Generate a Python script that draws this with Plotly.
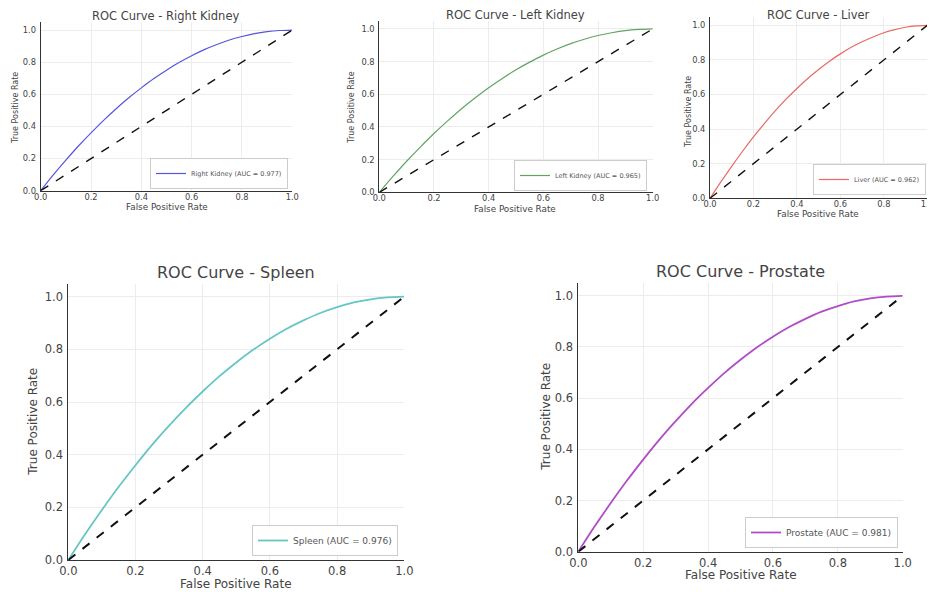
import plotly.graph_objects as go

OFF = 8  # page body margin of the browser
W, H = 935 - OFF, 592 - OFF

fpr = [0.0, 0.05, 0.1, 0.15, 0.2, 0.25, 0.3, 0.35, 0.4, 0.45, 0.5, 0.55, 0.6, 0.65,
       0.7, 0.75, 0.8, 0.85, 0.9, 0.95, 1.0]

organs = ["Right Kidney", "Left Kidney", "Liver", "Spleen", "Prostate"]
auc = ["0.977", "0.965", "0.962", "0.976", "0.981"]
tpr_right_kidney = [0.0, 0.098, 0.19, 0.278, 0.36, 0.438, 0.51, 0.578, 0.64, 0.698, 0.75,
                    0.798, 0.84, 0.878, 0.91, 0.938, 0.96, 0.978, 0.99, 0.997, 1.0]
tpr_left_kidney = [0.0, 0.097, 0.19, 0.277, 0.36, 0.437, 0.51, 0.577, 0.64, 0.697, 0.75,
                   0.797, 0.84, 0.877, 0.91, 0.937, 0.96, 0.977, 0.99, 0.997, 1.0]
tpr_liver = [0.0, 0.095, 0.185, 0.272, 0.355, 0.432, 0.505, 0.573, 0.635, 0.693, 0.745,
             0.793, 0.835, 0.873, 0.905, 0.933, 0.957, 0.975, 0.989, 0.997, 1.0]
tpr_spleen = [0.0, 0.098, 0.19, 0.278, 0.36, 0.438, 0.51, 0.578, 0.64, 0.698, 0.75,
              0.798, 0.84, 0.878, 0.91, 0.938, 0.96, 0.978, 0.99, 0.997, 1.0]
tpr_prostate = [0.0, 0.098, 0.19, 0.278, 0.36, 0.438, 0.51, 0.578, 0.64, 0.698, 0.75,
                0.798, 0.84, 0.878, 0.91, 0.938, 0.96, 0.978, 0.99, 0.997, 1.0]
tprs = [tpr_right_kidney, tpr_left_kidney, tpr_liver, tpr_spleen, tpr_prostate]
chance = [0.0, 1.0]
tick_vals = [0.0, 0.2, 0.4, 0.6, 0.8, 1.0]
tick_text = ["0.0", "0.2", "0.4", "0.6", "0.8", "1.0"]

colors = ["#5555dc", "#62a562", "#e86a62", "#66c6c6", "#b04cc8"]

# pixel boxes (screen coords): x0, x1, y(0), y(1.05)
boxes = [
    (40.7, 292.3, 190.7, 22.0),
    (379.3, 652.7, 192.3, 20.8),
    (710.0, 927.3, 198.3, 16.7),
    (68.3, 404.3, 560.0, 283.5),
    (578.3, 902.7, 551.7, 283.0),
]
titles_px = [(165, 16), (515, 15.5), (818, 15.5), (236, 272.7), (740, 271.7)]
xlab_px = [(166.7, 207), (515, 209.5), (818, 214), (235.7, 584), (741, 575)]
ylab_px = [(15, 108), (350.7, 108), (688, 112), (33, 421.7), (546, 416.7)]
legend_px = [(288, 189), (647, 191), (926, 195), (398, 556), (898, 548)]
small = [True, True, True, False, False]

fig = go.Figure()
annotations = []
layout = dict(
    width=W, height=H, autosize=False,
    margin=dict(l=0, r=0, t=0, b=0, pad=0),
    paper_bgcolor="white", plot_bgcolor="white",
    font=dict(family="DejaVu Sans", color="#444"),
)

def px(x):
    return (x - OFF) / W

def py(y):
    return 1 - (y - OFF) / H

for i in range(5):
    sfx = "" if i == 0 else str(i + 1)
    xa, ya = "x" + sfx, "y" + sfx
    leg = "legend" + sfx
    sm = small[i]
    lw = 1.2 if sm else 1.8
    fig.add_trace(go.Scatter(
        x=fpr, y=tprs[i], mode="lines", line=dict(color=colors[i], width=lw, shape="spline", smoothing=0.8),
        name=f"{organs[i]} (AUC = {auc[i]})", xaxis=xa, yaxis=ya, legend=leg, showlegend=True,
    ))
    fig.add_trace(go.Scatter(
        x=chance, y=chance, mode="lines", line=dict(color="#111", width=1.4 if sm else 2, dash="dash"),
        xaxis=xa, yaxis=ya, showlegend=False,
    ))
    x0, x1, yb, yt = boxes[i]
    tf = 8.3 if sm else 11.5
    axcommon = dict(
        showline=True, linecolor="#333", linewidth=1, ticks="",
        showgrid=True, gridcolor="#ececec", gridwidth=1,
        tickvals=tick_vals, ticktext=tick_text, tickfont=dict(size=tf, color="#444"),
        zeroline=False, mirror=False, fixedrange=True, automargin=False,
    )
    layout["xaxis" + sfx] = dict(axcommon, domain=[px(x0), px(x1)], range=[0, 1.0],
                                 anchor=ya, ticklabelstandoff=-2 if sm else 0)
    layout["yaxis" + sfx] = dict(axcommon, domain=[py(yb), py(yt)], range=[0, 1.05],
                                 anchor=xa, ticklabelstandoff=2)
    lx, ly = legend_px[i]
    layout[leg] = dict(
        x=px(lx), y=py(ly), xanchor="right", yanchor="bottom",
        bgcolor="white", bordercolor="#cccccc", borderwidth=1,
        font=dict(size=6.5 if sm else 9, color="#555"),
        itemwidth=30, tracegroupgap=0,
    )
    title = f"ROC Curve - {organs[i]}"
    tx, ty = titles_px[i]
    annotations.append(dict(text=title, x=px(tx), y=py(ty), xref="paper", yref="paper",
                            showarrow=False, xanchor="center", yanchor="middle",
                            font=dict(size=11.5 if sm else 16, color="#444")))
    ax_, ay_ = xlab_px[i]
    annotations.append(dict(text="False Positive Rate", x=px(ax_), y=py(ay_), xref="paper", yref="paper",
                            showarrow=False, xanchor="center", yanchor="middle",
                            font=dict(size=8.8 if sm else 12, color="#444")))
    bx, by = ylab_px[i]
    annotations.append(dict(text="True Positive Rate", x=px(bx), y=py(by), xref="paper", yref="paper",
                            showarrow=False, xanchor="center", yanchor="middle", textangle=-90,
                            font=dict(size=8 if sm else 12, color="#444")))

layout["annotations"] = annotations
fig.update_layout(**layout)
fig.write_html("out.html")
